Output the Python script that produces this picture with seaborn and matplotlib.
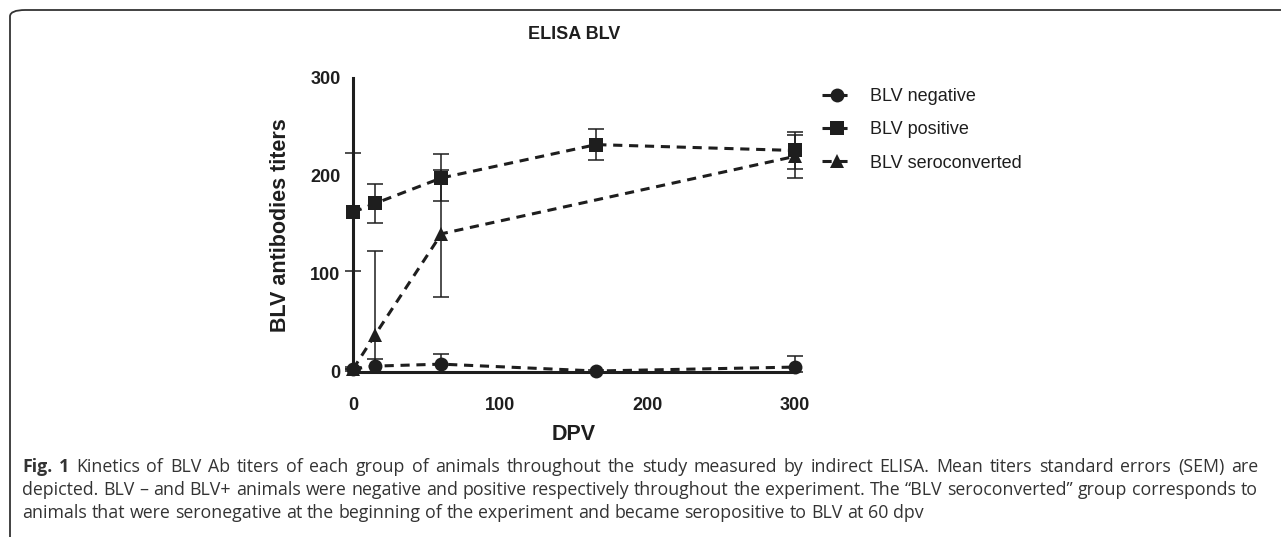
import pandas as pd
import seaborn as sns
import matplotlib.pyplot as plt
from matplotlib.patches import FancyBboxPatch

# data (mean titers and SEM)
groups = ['BLV negative', 'BLV positive', 'BLV seroconverted']

neg_days = [0, 15, 60, 165, 300]
neg_mean = [3, 6, 8, 1, 5]
neg_sem = [2, 7, 10, 1, 11]

pos_days = [0, 15, 60, 165, 300]
pos_mean = [163, 172, 198, 232, 226]
pos_sem = [60, 20, 24, 16, 19]

sero_days = [0, 15, 60, 300]
sero_mean = [3, 38, 141, 220]
sero_sem = [0, 85, 65, 22]

xticks = [0, 100, 200, 300]
yticks = [0, 100, 200, 300]

caption_bold = 'Fig. 1'
caption_lines = [
    'Kinetics of BLV Ab titers of each group of animals throughout the study measured by indirect ELISA. Mean titers standard errors (SEM) are',
    'depicted. BLV \u2013 and BLV+ animals were negative and positive respectively throughout the experiment. The \u201cBLV seroconverted\u201d group corresponds to',
    'animals that were seronegative at the beginning of the experiment and became seropositive to BLV at 60 dpv',
]

df = pd.concat([
    pd.DataFrame({'DPV': neg_days, 'titer': neg_mean, 'sem': neg_sem, 'group': groups[0]}),
    pd.DataFrame({'DPV': pos_days, 'titer': pos_mean, 'sem': pos_sem, 'group': groups[1]}),
    pd.DataFrame({'DPV': sero_days, 'titer': sero_mean, 'sem': sero_sem, 'group': groups[2]}),
])

sns.set_style('white')
plt.rcParams['font.family'] = ['Liberation Sans', 'DejaVu Sans']

W, H = 1281, 537
fig = plt.figure(figsize=(W / 100, H / 100), dpi=100)
ax = fig.add_axes([0.2756, 0.3073, 0.3450, 0.5475])

ink = '#1e1e1e'
sns.lineplot(data=df, x='DPV', y='titer', style='group', color=ink,
             markers={groups[0]: 'o', groups[1]: 's', groups[2]: '^'},
             dashes={g: (3, 2.2) for g in groups},
             markersize=10, linewidth=2.2, markeredgewidth=0,
             ax=ax, clip_on=False, zorder=3)

# error bars are cut at the x axis like in the original
for _, d in df.groupby('group'):
    lower = d[['sem', 'titer']].min(axis=1)
    ax.errorbar(d['DPV'], d['titer'], yerr=[lower, d['sem']], fmt='none', ecolor=ink,
                elinewidth=1.1, capsize=6, capthick=1.1, clip_on=False, zorder=2)

ax.set_xlim(0, 300)
ax.set_ylim(0, 300)
ax.set_xticks(xticks)
ax.set_yticks(yticks)
for s in ['top', 'right']:
    ax.spines[s].set_visible(False)
for s in ['left', 'bottom']:
    ax.spines[s].set_linewidth(2.2)
    ax.spines[s].set_color(ink)
ax.tick_params(axis='both', direction='out', length=6, width=2.2, color=ink,
               labelsize=13, labelcolor=ink)
ax.tick_params(axis='x', pad=12)
ax.tick_params(axis='y', pad=3)
for lab in ax.get_xticklabels() + ax.get_yticklabels():
    lab.set_fontweight('bold')

ax.set_xlabel('DPV', fontsize=15.5, fontweight='bold', color=ink, labelpad=7)
ax.set_ylabel('BLV antibodies titers', fontsize=15.5, fontweight='bold', color=ink, labelpad=14)

fig.text(0.448, 0.935, 'ELISA BLV', ha='center', va='center', fontsize=13,
         fontweight='bold', color=ink)

leg = ax.legend(loc='upper left', bbox_to_anchor=(822 / W, 1 - 88 / H),
                bbox_transform=fig.transFigure, borderaxespad=0, borderpad=0,
                frameon=False, fontsize=13, handlelength=1.7, labelspacing=0.9,
                handletextpad=0.95, labelcolor=ink)

# caption, justified between the margins
cap_font = dict(fontsize=12.8, family='Open Sans', va='center', color='#333333')
cap_y = [1 - 467 / H, 1 - 490 / H, 1 - 513 / H]
x_left, x_right = 22, 1258
renderer = fig.canvas.get_renderer()


def put_words(words, y, first_x, justify, bold_first=False):
    items = []
    for i, w in enumerate(words):
        weight = 'bold' if (bold_first and i < 2) else 'normal'
        t = fig.text(0, y, w, fontweight=weight, **cap_font)
        items.append((t, t.get_window_extent(renderer).width))
    space = fig.text(0, y, 'a a', **cap_font)
    sw = space.get_window_extent(renderer).width - fig.text(0, y, 'aa', alpha=0, **cap_font).get_window_extent(renderer).width
    space.remove()
    total = sum(w for _, w in items)
    gap = (x_right - first_x - total) / (len(items) - 1) if justify else sw
    x = first_x
    for t, w in items:
        t.set_x(x / W)
        x += w + gap


put_words((caption_bold + ' ' + caption_lines[0]).split(' '), cap_y[0], x_left, True, bold_first=True)
put_words(caption_lines[1].split(' '), cap_y[1], x_left, True)
put_words(caption_lines[2].split(' '), cap_y[2], x_left, False)

# rounded frame around the figure panel
frame = FancyBboxPatch((10 / W, -0.05), 1.05, 1.05 - 10 / H,
                       boxstyle='round,pad=0,rounding_size=0.012',
                       transform=fig.transFigure, fill=False, edgecolor='#333333',
                       linewidth=1.3, clip_on=False)
fig.patches.append(frame)

fig.savefig('out.png', dpi=100)
